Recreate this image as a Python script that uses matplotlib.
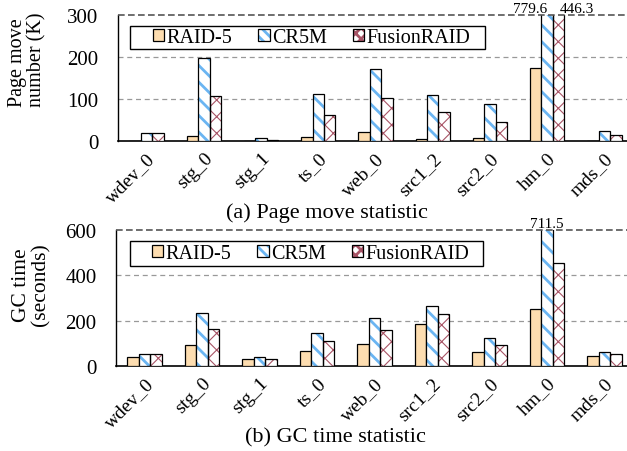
import matplotlib
matplotlib.use("Agg")
import matplotlib.pyplot as plt
import numpy as np
from matplotlib.patches import Patch, Rectangle
from matplotlib.legend_handler import HandlerTuple

plt.rcParams['font.family'] = ['Liberation Serif', 'DejaVu Serif']
plt.rcParams['hatch.linewidth'] = 2.0

categories = ["wdev_0", "stg_0", "stg_1", "ts_0", "web_0", "src1_2", "src2_0", "hm_0", "mds_0"]
series = ["RAID-5", "CR5M", "FusionRAID"]

page_raid5 = [1, 12, 0.5, 9, 21, 5, 7, 175, 0.5]
page_cr5m = [20, 198, 7, 112, 171, 110, 88, 779.6, 24]
page_fusion = [20, 108, 2, 63, 103, 69, 45, 446.3, 15]

gc_raid5 = [38, 91, 32, 67, 98, 185, 62, 252, 42]
gc_cr5m = [51, 234, 38, 147, 211, 264, 123, 711.5, 62]
gc_fusion = [51, 164, 32, 110, 160, 231, 91, 456, 54]

raid_color = "#FDDDB0"
cr_color = "#6BB5F2"
fu_color = "#A85466"

W, H = 627, 452
fig = plt.figure(figsize=(W / 100, H / 100), dpi=100)


def px_axes(left, top, right, bottom):
    return fig.add_axes([left / W, 1 - bottom / H, (right - left) / W, (bottom - top) / H])


def draw(ax, vals, ymax, yticks, legend_box):
    x = np.arange(len(categories))
    bw = 0.2
    r5, cr, fu = vals
    ax.bar(x - bw, r5, bw, color=raid_color, edgecolor='black', linewidth=0.9, zorder=3)
    ax.bar(x, cr, bw, color='white', edgecolor=cr_color, linewidth=0, hatch='\\\\', zorder=3)
    ax.bar(x, cr, bw, color='none', edgecolor='black', linewidth=0.9, zorder=4)
    b2 = ax.bar(x + bw, fu, bw, color='white', edgecolor=fu_color, linewidth=0, hatch='xx', zorder=3)
    for p in b2:
        if hasattr(p, 'set_hatch_linewidth'):
            p.set_hatch_linewidth(0.8)
    ax.bar(x + bw, fu, bw, color='none', edgecolor='black', linewidth=0.9, zorder=4)

    ax.set_xlim(-0.5, len(categories) - 0.5)
    ax.set_ylim(0, ymax)
    ax.set_yticks(yticks)
    ax.set_yticklabels([str(t) for t in yticks], fontsize=15)
    ax.set_xticks(x)
    ax.set_xticklabels(categories, rotation=45, ha='right', rotation_mode='anchor', fontsize=14)
    ax.tick_params(axis='y', length=0, pad=14)
    ax.tick_params(axis='x', length=0, pad=6)
    for t in yticks[1:-1]:
        ax.axhline(t, color='#999999', linestyle=(0, (4, 3)), linewidth=0.9, zorder=1)
    ax.axhline(ymax, color='#555555', linestyle=(0, (4, 2)), linewidth=1.2, zorder=5, clip_on=False)
    ax.spines['top'].set_visible(False)
    ax.spines['right'].set_visible(False)
    ax.spines['left'].set_linewidth(1.0)
    ax.spines['bottom'].set_linewidth(1.2)

    # legend frame drawn separately (asymmetric padding)
    x0, y0, w, h = legend_box
    ax.add_patch(Rectangle((x0, y0), w, h, transform=ax.transAxes, facecolor='white',
                           edgecolor='black', linewidth=1.0, zorder=6))

    h1 = Patch(facecolor=raid_color, edgecolor='black', linewidth=0.9)
    h2 = (Patch(facecolor='white', edgecolor=cr_color, linewidth=0, hatch='\\\\\\'),
          Patch(facecolor='none', edgecolor='black', linewidth=0.9))
    h3a = Patch(facecolor='white', edgecolor=fu_color, linewidth=0, hatch='xxx')
    if hasattr(h3a, 'set_hatch_linewidth'):
        h3a.set_hatch_linewidth(0.8)
    h3 = (h3a, Patch(facecolor='none', edgecolor='black', linewidth=0.9))
    leg = ax.legend([h1, h2, h3], series, loc='center', ncol=3,
                    bbox_to_anchor=(x0 + w / 2 + 0.008, y0 + h / 2), borderaxespad=0, fontsize=14.5,
                    handler_map={tuple: HandlerTuple(ndivide=1, pad=0)},
                    handlelength=0.55, handleheight=0.55, handletextpad=0.12,
                    frameon=False, borderpad=0.0, columnspacing=1.3)
    leg.set_zorder(7)
    return ax


ax1 = px_axes(118, 16, 633, 142)
draw(ax1, (page_raid5, page_cr5m, page_fusion), 300, [0, 100, 200, 300],
     (0.023, 0.73, 0.69, 0.183))
ax2 = px_axes(116, 231, 633, 367)
draw(ax2, (gc_raid5, gc_cr5m, gc_fusion), 600, [0, 200, 400, 600],
     (0.027, 0.735, 0.683, 0.184))

# clipped-bar value annotations
hm = categories.index("hm_0")
ax1.text(hm + 0.0, 300, f"{page_cr5m[hm]}", ha='right', va='bottom', fontsize=11)
ax1.text(hm + 0.22, 300, f"{page_fusion[hm]}", ha='left', va='bottom', fontsize=11)
ax2.text(hm, 600, f"{gc_cr5m[hm]}", ha='center', va='bottom', fontsize=11)

fig.text(327 / W, 1 - 213 / H, "(a) Page move statistic", ha='center', va='center', fontsize=16)
fig.text(335 / W, 1 - 438 / H, "(b) GC time statistic", ha='center', va='center', fontsize=16)

fig.text(27 / W, 1 - 60 / H, "Page move\nnumber (K)", rotation=90, ha='center', va='center',
         multialignment='left', fontsize=14.5, linespacing=1.0)
fig.text(31 / W, 1 - 285 / H, "GC time\n(seconds)", rotation=90, ha='center', va='center',
         multialignment='center', fontsize=15.5, linespacing=1.0)

fig.savefig("out.png", dpi=100)
